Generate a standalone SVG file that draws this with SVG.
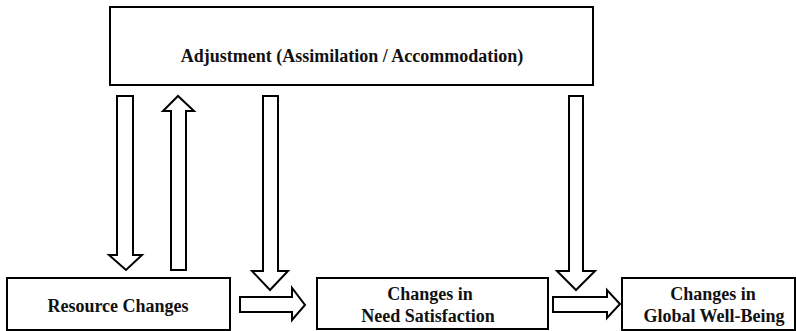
<svg xmlns="http://www.w3.org/2000/svg" width="796" height="331" viewBox="0 0 796 331">
<style>
.box{fill:#fff;stroke:#000;stroke-width:2}
.arr{fill:#fff;stroke:#000;stroke-width:2;stroke-linejoin:miter}
.t{font-family:"Liberation Serif","Times New Roman",serif;font-weight:bold;font-size:18px;fill:#111;text-anchor:middle}
</style>
<rect width="796" height="331" fill="#fff"/>
<g id="adjustment">
<rect class="box" x="110" y="7" width="483" height="78"/>
<text class="t" x="352" y="62">Adjustment (Assimilation / Accommodation)</text>
</g>
<g id="resource">
<rect class="box" x="7" y="278" width="223" height="52"/>
<text class="t" x="118" y="312">Resource Changes</text>
</g>
<g id="need">
<rect class="box" x="317" y="278" width="231" height="51"/>
<text class="t" x="430" y="300">Changes in</text>
<text class="t" x="428" y="322">Need Satisfaction</text>
</g>
<g id="wellbeing">
<rect class="box" x="622" y="278" width="173" height="52"/>
<text class="t" x="713" y="300">Changes in</text>
<text class="t" x="714" y="322">Global Well-Being</text>
</g>
<g id="connectors">
<polygon class="arr" points="117,96 133,96 133,255 142,255 126,270 109,255 117,255"/>
<polygon class="arr" points="171,270 186,270 186,111 194,111 178,96 163,111 171,111"/>
<polygon class="arr" points="263,96 278,96 278,271 288,271 270,290 252,271 263,271"/>
<polygon class="arr" points="569,96 583,96 583,271 595,271 576,290 557,271 569,271"/>
<polygon class="arr" points="240,297 292,297 292,288 305,305 292,320 292,312 240,312"/>
<polygon class="arr" points="553,297 607,297 607,290 620,304 607,318 607,312 553,312"/>
</g>
</svg>
